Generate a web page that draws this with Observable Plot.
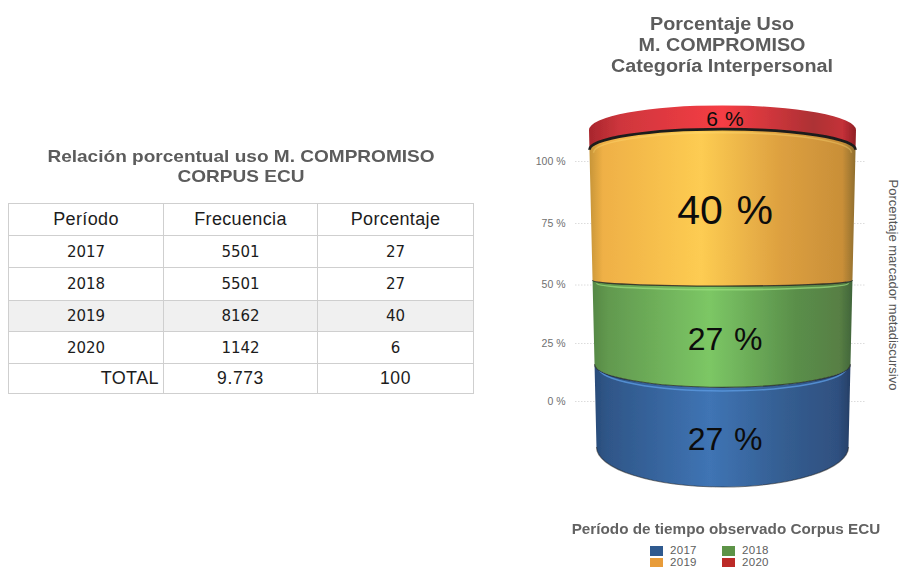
<!DOCTYPE html>
<html lang="es">
<head>
<meta charset="utf-8">
<script src="https://cdn.jsdelivr.net/npm/d3@7"></script>
<script src="https://cdn.jsdelivr.net/npm/@observablehq/plot@0.6"></script>
<style>
  html, body { margin: 0; padding: 0; background: #fff; }
  #page { position: relative; width: 900px; height: 567px; overflow: hidden; font-family: "Liberation Sans", Arial, sans-serif; }
  .abs { position: absolute; }
  .ttl { color: #5c5c5c; font-weight: bold; text-align: center; white-space: nowrap; }
  table { position: absolute; left: 8px; top: 203px; width: 465px; height: 190px; border-collapse: collapse; table-layout: fixed; color: #1c1c1c; }
  td { border: 1px solid #cfcfcf; text-align: center; padding: 0; font-family: "DejaVu Sans", sans-serif; font-size: 15px; }
  tr.head td { font-family: "Liberation Sans", sans-serif; font-size: 18px; letter-spacing: .35px; }
  tr.shade td { background: #f0f0f0; }
  tr.total td { font-family: "Liberation Sans", sans-serif; font-size: 17.5px; letter-spacing: .6px; }
  tr.total td:first-child { text-align: right; padding-right: 4px; font-size: 18px; letter-spacing: .4px; }
  .sw { position: absolute; width: 13px; height: 10px; }
  .lg { position: absolute; font-size: 11.5px; line-height: 10px; color: #5e5e5e; letter-spacing: .3px; }
  #chart { position: absolute; left: 520px; top: 90px; }
  #chart svg { overflow: visible; display: block; }
</style>
</head>
<body>
<div id="page"></div>
<script>
// ---- Data ----
const years = ["2017", "2018", "2019", "2020"];
const frecuencia = [5501, 5501, 8162, 1142];
const porcentaje = [27, 27, 40, 6];
const totalLabel = "TOTAL";
const totalFrecuencia = "9.773";
const totalPorcentaje = 100;
const tableHeader = ["Período", "Frecuencia", "Porcentaje"];
const yTicks = [0, 25, 50, 75, 100];
const category = "Corpus ECU";

// ---- Styles ----
const legendColors = ["#2f5a8f", "#5d9347", "#e89c3a", "#bc2a27"];
const labelSizes = [32, 32, 41, 21];
const rowHeights = [32, 32, 32.5, 31.5, 32, 30];
const gradients = [
  [[0,"#2a4c7a"],[.05,"#2f5688"],[.45,"#3f74b4"],[.75,"#345d90"],[.95,"#2f5080"],[1,"#263f66"]],
  [[0,"#558845"],[.06,"#62994f"],[.45,"#7cc765"],[.78,"#5a8f4a"],[.95,"#587f44"],[1,"#40653a"]],
  [[0,"#c79538"],[.05,"#efb046"],[.42,"#fdcc52"],[.72,"#dda040"],[.95,"#c98f38"],[1,"#8f6e2e"]],
  [[0,"#a8262d"],[.12,"#cf363d"],[.5,"#f53d44"],[.84,"#ad3034"],[.95,"#c43038"],[1,"#8f2025"]]
];
const rims = ["#5b9ae0", "#9be07f", "#ffe07a", "#ff6b6b"];
const rimOpacity = [0.8, 0.7, 0.35, 0];
const edgeWidth = [1.1, 1.1, 1.4, 2.8];
const edgeOpacity = [0.55, 0.7, 0.8, 1];

const rows = years.map((year, i) => ({year, pct: porcentaje[i], cat: category, i}));

const page = d3.select("#page");

// ---- Titles ----
page.append("div").attr("class", "abs ttl")
  .style("left", "0px").style("width", "482px").style("top", "147px")
  .style("font-size", "17px").style("line-height", "20px").style("transform", "scaleX(1.12)")
  .html("Relación porcentual uso M. COMPROMISO<br>CORPUS ECU");
page.append("div").attr("class", "abs ttl")
  .style("left", "545px").style("width", "354px").style("top", "14px")
  .style("font-size", "17.5px").style("line-height", "21px").style("transform", "scaleX(1.13)")
  .html("Porcentaje Uso<br>M. COMPROMISO<br>Categoría Interpersonal");

// ---- Table ----
const table = page.append("table");
const cols = table.append("colgroup");
[155, 154, 156].forEach(w => cols.append("col").style("width", w + "px"));
const head = table.append("tr").attr("class", "head");
tableHeader.forEach(h => head.append("td").text(h));
years.forEach((y, i) => {
  const tr = table.append("tr").attr("class", y === "2019" ? "shade" : null);
  [y, frecuencia[i], porcentaje[i]].forEach(v => tr.append("td").text(v));
});
const foot = table.append("tr").attr("class", "total");
[totalLabel, totalFrecuencia, totalPorcentaje].forEach(v => foot.append("td").text(v));
table.selectAll("tr").style("height", (_, i) => rowHeights[i] + "px");

// ---- Perspective of the cylinder, applied to the library's y scale output ----
const OFFY = 90;                      // svg top on the page
const stretch = y => 1.321 * (y + OFFY) - 82.7 - OFFY;          // side edge of a band
const bulge = m => (m + OFFY - 250.7) * 0.2038;                 // curvature of an edge
const front = y => { const m = stretch(y); return m + bulge(m); };
const halfW = (m, half) => half * (1 - (m + OFFY - 130) / 317 * 0.056);

function arc(cx, m, half, dir) {
  // dir = 1 left to right, -1 right to left
  const b = bulge(m), w = halfW(m, half), ry = Math.max(Math.abs(b), 0.5);
  const sweep = (b < 0) === (dir > 0) ? 1 : 0;
  return `A${w},${ry} 0 0 ${sweep} ${cx + dir * w},${m}`;
}
function edgePath(cx, m, half) {
  const w = halfW(m, half);
  return `M${cx - w},${m}` + arc(cx, m, half, 1);
}
function bandPath(cx, mTop, mBot, half) {
  const wb = halfW(mBot, half);
  return edgePath(cx, mTop, half) + `L${cx + wb},${mBot}` + arc(cx, mBot, half, -1) + "Z";
}

function cylinder(index, scales, values) {
  const g = d3.create("svg:g").attr("filter", "url(#soft)");
  const half = scales.scales.x.bandwidth / 2;
  for (const i of index) {
    const cx = values.x[i] + half;
    const mBot = stretch(values.y1[i]), mTop = stretch(values.y2[i]);
    g.append("path").attr("d", bandPath(cx, mTop, mBot, half)).attr("fill", values.fill[i]);
    // light rim under the top edge
    if (rimOpacity[i] > 0) {
      g.append("path").attr("d", edgePath(cx, mTop + 3, half * 0.97)).attr("fill", "none")
        .attr("stroke", rims[i]).attr("stroke-width", 1.6).attr("stroke-opacity", rimOpacity[i]);
    }
    // dark lower edge
    g.append("path").attr("d", edgePath(cx, mBot, half)).attr("fill", "none")
      .attr("stroke", "#1d1d1d").attr("stroke-width", edgeWidth[i]).attr("stroke-opacity", edgeOpacity[i]);
  }
  return g.node();
}

function labelRender(index, scales, values, dims, ctx, next) {
  return next(index, scales, {...values, y: Float64Array.from(values.y, front)}, dims, ctx);
}

// ---- Chart ----
const plot = Plot.plot({
  width: 380,
  height: 410,
  marginLeft: 55,
  marginRight: 35,
  marginTop: 70,
  marginBottom: 99,
  style: {fontFamily: "'Liberation Sans', Arial, sans-serif", background: "transparent", overflow: "visible"},
  x: {domain: [category], padding: 0.0395, range: [57.5, 347.5], axis: null},
  y: {type: "linear", domain: yTicks, range: [401, 343, 284.5, 223, 161].map(v => v - OFFY), axis: null},
  color: {type: "ordinal", domain: years, range: years.map((_, i) => `url(#grad${i})`)},
  marks: [
    Plot.gridY(yTicks, {stroke: "#dcdcdc", strokeOpacity: 1, strokeDasharray: "1.5,1.5"}),
    Plot.axisY({ticks: yTicks, tickFormat: d => d + " %", tickSize: 0, tickPadding: 10, fontSize: 10.5, fill: "#707070", label: null}),
    Plot.barY(rows, Plot.stackY({x: "cat", y: "pct", fill: "year", order: null, render: cylinder})),
    Plot.text(rows, Plot.stackY({
      x: "cat", y: "pct", order: null,
      text: d => d.pct + "\u2004%",
      fontSize: d => labelSizes[d.i],
      fill: "#0c0c0c",
      dx: 2,
      dy: 2,
      render: labelRender
    })),
    Plot.text(["Porcentaje marcador metadiscursivo"], {
      frameAnchor: "right", textAnchor: "middle", y: 50, dx: 28, rotate: 90, fontSize: 13, fill: "#555"
    })
  ]
});
const defs = d3.select(plot).insert("defs", ":first-child");
gradients.forEach((stops, i) => {
  const lg = defs.append("linearGradient").attr("id", `grad${i}`).attr("x1", 0).attr("x2", 1).attr("y1", 0).attr("y2", 0);
  stops.forEach(([o, c]) => lg.append("stop").attr("offset", o).attr("stop-color", c));
});
defs.append("filter").attr("id", "soft").attr("x", "-5%").attr("width", "110%").attr("y", "-5%").attr("height", "110%")
  .append("feGaussianBlur").attr("stdDeviation", 0.6);
const chartDiv = page.append("div").attr("id", "chart");
chartDiv.node().appendChild(plot);

// ---- Legend ----
page.append("div").attr("class", "abs ttl")
  .style("left", "546px").style("width", "360px").style("top", "521px")
  .style("font-size", "14px").style("line-height", "16px").style("color", "#626262").style("transform", "scaleX(1.09)")
  .text("Período de tiempo observado Corpus ECU");
const lgX = [650, 722], lgY = [546, 558];
years.forEach((y, i) => {
  const col = i % 2, row = i >> 1;
  page.append("div").attr("class", "sw").style("left", lgX[col] + "px").style("top", lgY[row] + "px").style("background", legendColors[i]);
  page.append("div").attr("class", "lg").style("left", lgX[col] + 20 + "px").style("top", lgY[row] - 1 + "px").text(y);
});
</script>
</body>
</html>
